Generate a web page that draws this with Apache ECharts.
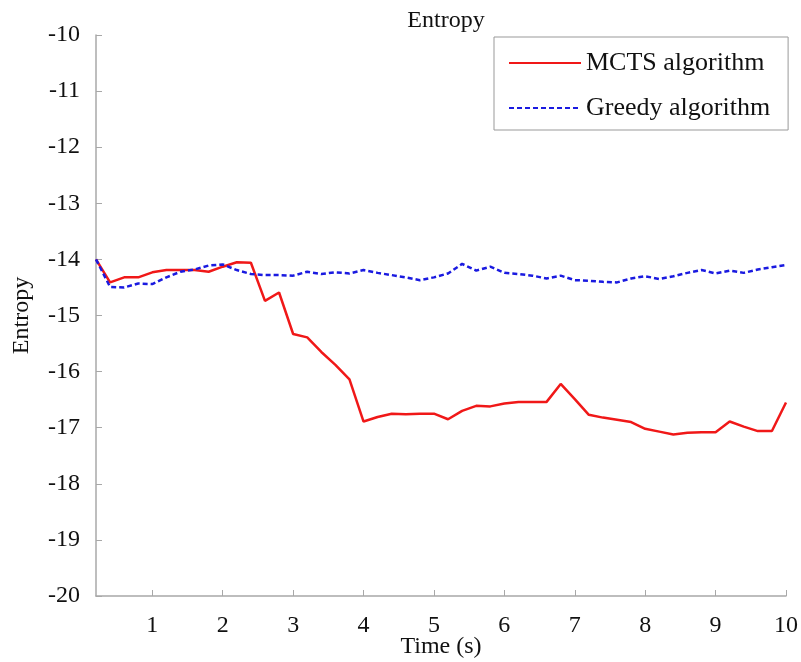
<!DOCTYPE html>
<html>
<head>
<meta charset="utf-8">
<script src="https://cdn.jsdelivr.net/npm/echarts@6/dist/echarts.min.js"></script>
<style>
  html, body { margin: 0; padding: 0; background: #fff; }
  #chart { width: 801px; height: 662px; }
</style>
</head>
<body>
<div id="chart"></div>
<script>
const timeValues = [
  0.2, 0.4, 0.6, 0.8, 1.0, 1.2, 1.4, 1.6, 1.8, 2.0,
  2.2, 2.4, 2.6, 2.8, 3.0, 3.2, 3.4, 3.6, 3.8, 4.0,
  4.2, 4.4, 4.6, 4.8, 5.0, 5.2, 5.4, 5.6, 5.8, 6.0,
  6.2, 6.4, 6.6, 6.8, 7.0, 7.2, 7.4, 7.6, 7.8, 8.0,
  8.2, 8.4, 8.6, 8.8, 9.0, 9.2, 9.4, 9.6, 9.8, 10.0
];
const mctsValues = [
  -14.00, -14.41, -14.32, -14.32, -14.23, -14.19, -14.19, -14.19, -14.22, -14.13,
  -14.05, -14.06, -14.74, -14.59, -15.33, -15.39, -15.65, -15.88, -16.14, -16.89,
  -16.81, -16.75, -16.76, -16.75, -16.75, -16.85, -16.70, -16.61, -16.62, -16.57,
  -16.54, -16.54, -16.54, -16.22, -16.49, -16.77, -16.82, -16.86, -16.90, -17.02,
  -17.07, -17.12, -17.09, -17.08, -17.08, -16.89, -16.98, -17.06, -17.06, -16.55
];
const greedyValues = [
  -14.00, -14.49, -14.50, -14.43, -14.44, -14.32, -14.22, -14.18, -14.11, -14.09,
  -14.19, -14.26, -14.28, -14.28, -14.29, -14.22, -14.26, -14.23, -14.25, -14.19,
  -14.24, -14.28, -14.32, -14.37, -14.32, -14.25, -14.08, -14.20, -14.13, -14.24,
  -14.26, -14.29, -14.34, -14.29, -14.37, -14.38, -14.40, -14.41, -14.34, -14.30,
  -14.35, -14.30, -14.24, -14.19, -14.25, -14.20, -14.24, -14.18, -14.14, -14.10
];
const xTicks = [1, 2, 3, 4, 5, 6, 7, 8, 9, 10];

const font = 'Liberation Serif';
const axisGray = '#a8a8a8';

const myChart = echarts.init(document.getElementById('chart'));

const pairs = (ys) => timeValues.map((t, i) => [t, ys[i]]);

const option = {
  animation: false,
  title: {
    text: 'Entropy',
    left: 441,
    textAlign: 'center',
    top: 4,
    textStyle: { fontFamily: font, fontSize: 24, fontWeight: 'normal', color: '#111' }
  },
  legend: {
    orient: 'vertical',
    left: 494,
    top: 37,
    padding: [13, 18, 9, 14],
    borderColor: '#999',
    borderWidth: 1,
    itemWidth: 72,
    itemHeight: 24,
    itemGap: 19,
    itemStyle: { opacity: 0, borderWidth: 0 },
    textStyle: { fontFamily: font, fontSize: 26, color: '#111' }
  },
  grid: {
    left: 96,
    right: 15,
    top: 35,
    bottom: 66,
    outerBoundsMode: 'none'
  },
  xAxis: {
    type: 'value',
    min: 0.2,
    max: 10,
    name: 'Time (s)',
    nameLocation: 'middle',
    nameGap: 39,
    nameMoveOverlap: false,
    nameTextStyle: { fontFamily: font, fontSize: 24, color: '#111' },
    axisLine: { lineStyle: { color: axisGray, width: 1.5 } },
    axisTick: { inside: true, length: 6, customValues: xTicks, lineStyle: { color: axisGray } },
    axisLabel: { customValues: xTicks, margin: 18, fontFamily: font, fontSize: 24, color: '#111' },
    splitLine: { show: false }
  },
  yAxis: {
    type: 'value',
    min: -20,
    max: -10,
    interval: 1,
    name: 'Entropy',
    nameLocation: 'middle',
    nameGap: 62,
    nameMoveOverlap: false,
    nameTextStyle: { fontFamily: font, fontSize: 24, color: '#111' },
    axisLine: { show: true, lineStyle: { color: axisGray, width: 1.5 } },
    axisTick: { show: true, inside: true, length: 6, lineStyle: { color: axisGray } },
    axisLabel: { margin: 16, fontFamily: font, fontSize: 24, color: '#111' },
    splitLine: { show: false }
  },
  series: [
    {
      name: 'MCTS algorithm',
      type: 'line',
      data: pairs(mctsValues),
      symbol: 'none',
      lineStyle: { color: '#f01818', width: 2.5 },
      itemStyle: { color: '#f01818' }
    },
    {
      name: 'Greedy algorithm',
      type: 'line',
      data: pairs(greedyValues),
      symbol: 'none',
      lineStyle: { color: '#1a1ae0', width: 2.5, type: [5, 3] },
      itemStyle: { color: '#1a1ae0' }
    }
  ]
};

myChart.setOption(option);
</script>
</body>
</html>
